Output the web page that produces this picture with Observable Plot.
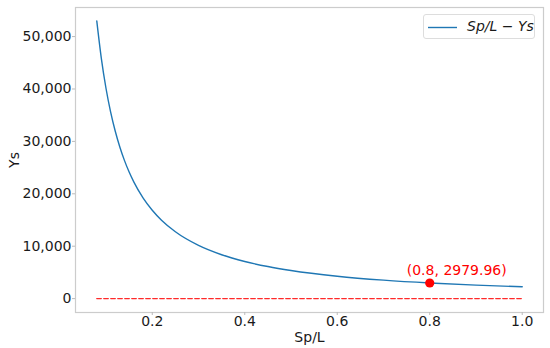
<!DOCTYPE html>
<html>
<head>
<meta charset="utf-8">
<script src="https://cdn.jsdelivr.net/npm/d3@7"></script>
<script src="https://cdn.jsdelivr.net/npm/@observablehq/plot@0.6"></script>
<style>
  html, body { margin: 0; padding: 0; background: #fff; }
  #wrap { position: relative; width: 550px; height: 348px; font-family: "DejaVu Sans", sans-serif; }
  #legend { position: absolute; left: 423px; top: 14px; width: 112px; height: 25px;
            border: 1px solid #ddd; border-radius: 3px; background: rgba(255,255,255,0.8);
            box-sizing: border-box; }
  #legend svg { position: absolute; left: 4px; top: 11px; }
  #legend span { position: absolute; left: 43px; top: 3px; font-size: 14px; font-style: italic; color: #1a1a1a; white-space: nowrap; }
</style>
</head>
<body>
<div id="wrap"></div>
<script>
const spL = [0.08, 0.09, 0.10, 0.11, 0.12, 0.13, 0.14, 0.15, 0.16, 0.18, 0.20, 0.22, 0.25, 0.30, 0.35, 0.40, 0.45, 0.50, 0.60, 0.70, 0.80, 0.90, 1.00];
const ys  = [52985, 45740, 40094, 35590, 31930, 28880, 26330, 24150, 22280, 19230, 16860, 14960, 12754, 10155, 8376, 7088, 6117, 5362, 4270, 3522, 2980, 2572, 2255];
const baseX = [0.08, 1.0];
const baseY = [0, 0];
const markX = [0.8];
const markY = [2979.96];
const markLabel = ["(0.8, 2979.96)"];
const xTicks = [0.2, 0.4, 0.6, 0.8, 1.0];
const yTicks = [0, 10000, 20000, 30000, 40000, 50000];

const curve = spL.map((x, i) => ({x, y: ys[i]}));
const base = baseX.map((x, i) => ({x, y: baseY[i]}));
const marker = markX.map((x, i) => ({x, y: markY[i], label: markLabel[i]}));

const chart = Plot.plot({
  width: 550,
  height: 348,
  marginLeft: 75,
  marginRight: 7,
  marginTop: 7,
  marginBottom: 36,
  style: { fontFamily: "DejaVu Sans, sans-serif", fontSize: "14px", color: "#1a1a1a", background: "#fff" },
  x: { domain: [0.034, 1.046] },
  y: { domain: [-2650, 55550] },
  marks: [
    Plot.frame({ stroke: "#cccccc", strokeWidth: 1.2 }),
    Plot.axisX({ ticks: xTicks, tickFormat: d3.format(".1f"), tickSize: 3, tickPadding: 1, stroke: "#bbb",
                 label: "Sp/L", labelAnchor: "center", labelArrow: "none", labelOffset: 29, fontSize: 14 }),
    Plot.axisY({ ticks: yTicks, tickFormat: d3.format(","), tickSize: 3, tickPadding: 1, stroke: "#bbb",
                 label: "Ys", labelAnchor: "center", labelArrow: "none", labelOffset: 66, fontSize: 14 }),
    Plot.line(base, { x: "x", y: "y", stroke: "#ff2a2a", strokeWidth: 1.4, strokeDasharray: "4.5,2.5" }),
    Plot.line(curve, { x: "x", y: "y", stroke: "#1f77b4", strokeWidth: 1.4, curve: "monotone-x" }),
    Plot.dot(marker, { x: "x", y: "y", r: 4.6, fill: "red", stroke: "none" }),
    Plot.text(marker, { x: "x", y: "y", text: "label", fill: "red", fontSize: 14, textAnchor: "middle", lineAnchor: "bottom", dx: 27, dy: -8 })
  ]
});

const wrap = document.getElementById("wrap");
wrap.appendChild(chart);
const legend = document.createElement("div");
legend.id = "legend";
legend.innerHTML = '<svg width="34" height="4"><line x1="0" y1="1.5" x2="29" y2="1.5" stroke="#1f77b4" stroke-width="1.4"/></svg><span>Sp/L <span style="position:static;font-style:normal">−</span> Ys</span>';
wrap.appendChild(legend);
</script>
</body>
</html>
